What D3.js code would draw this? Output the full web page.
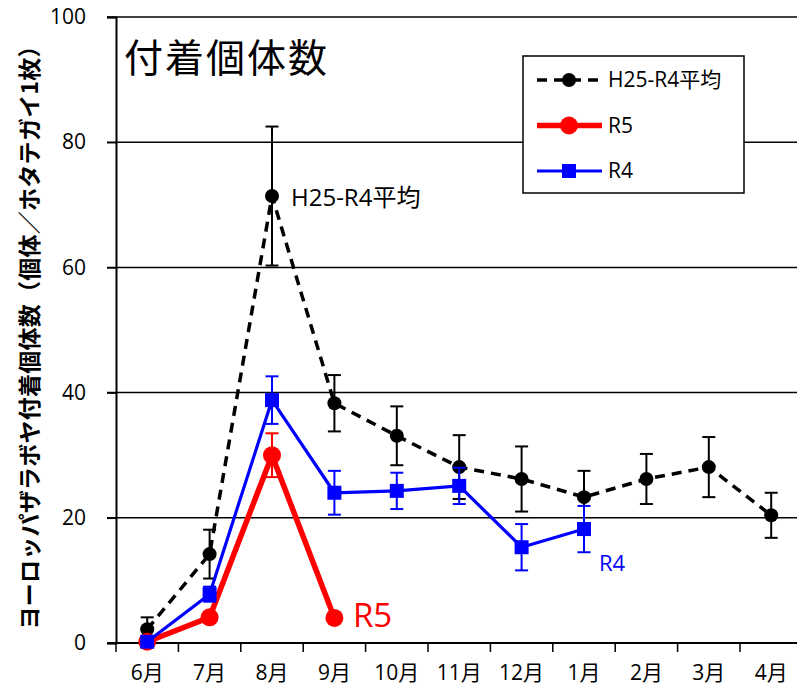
<!DOCTYPE html>
<html>
<head>
<meta charset="utf-8">
<script src="https://cdn.jsdelivr.net/npm/d3@7"></script>
<style>
  body { margin: 0; background: #fff; }
  svg text { font-family: "Open Sans", "Noto Sans CJK JP", sans-serif; }
</style>
</head>
<body>
<div id="chart"></div>
<script>
// months on the x axis
var months = ["6月", "7月", "8月", "9月", "10月", "11月", "12月", "1月", "2月", "3月", "4月"];
var yTicks = [0, 20, 40, 60, 80, 100];

// H25-R4 average, with error
var avgValues = [2.2, 14.2, 71.4, 38.3, 33.1, 28.1, 26.2, 23.3, 26.2, 28.1, 20.4];
var avgErr    = [1.9, 3.9, 11.1, 4.5, 4.7, 5.1, 5.2, 4.2, 4.0, 4.8, 3.6];
// R5
var r5Values = [0.2, 4.1, 30.0, 4.0];
var r5Err    = [0, 0, 3.5, 0];
// R4
var r4Values = [0.2, 7.8, 38.8, 24.0, 24.3, 25.1, 15.3, 18.2];
var r4Err    = [0.3, 1.2, 3.8, 3.5, 2.9, 2.9, 3.7, 3.7];

var width = 797, height = 692;
var plotLeft = 116, plotTop = 17, plotBottom = 643;
var step = 62.4;
var fontStack = "'Open Sans', 'Noto Sans CJK JP', sans-serif";

var svg = d3.select("#chart").append("svg")
    .attr("width", width)
    .attr("height", height);

var x = d3.scaleBand().domain(months).range([plotLeft, plotLeft + step * months.length]);
var y = d3.scaleLinear().domain([0, 100]).range([plotBottom, plotTop]);

function cx(i) { return x(months[i]) + x.bandwidth() / 2; }

// gridlines
svg.append("g").selectAll("line")
    .data(yTicks.filter(function (d) { return d > 0; }))
    .enter().append("line")
    .attr("x1", plotLeft - 9).attr("x2", width)
    .attr("y1", function (d) { return y(d); })
    .attr("y2", function (d) { return y(d); })
    .attr("stroke", "#000").attr("stroke-width", 1.5);

// y axis
var yAxis = svg.append("g")
    .attr("transform", "translate(" + plotLeft + ",0)")
    .call(d3.axisLeft(y).tickValues(yTicks).tickSize(9).tickPadding(21));
yAxis.select(".domain").attr("stroke-width", 2);
yAxis.selectAll(".tick line").attr("stroke-width", 1.5);
yAxis.selectAll("text").attr("font-size", 21).attr("fill", "#000")
    .style("font-family", fontStack);

// x axis (ticks between categories)
var xAxis = svg.append("g")
    .attr("transform", "translate(0," + plotBottom + ")")
    .call(d3.axisBottom(x).tickSize(0).tickPadding(22));
xAxis.select(".domain").attr("d", "M" + (plotLeft - 9) + ",0H" + width).attr("stroke-width", 2);
xAxis.selectAll("text").attr("font-size", 21).attr("fill", "#000")
    .style("font-family", fontStack);
svg.append("g").selectAll("line")
    .data(d3.range(months.length))
    .enter().append("line")
    .attr("x1", function (i) { return x(months[i]); })
    .attr("x2", function (i) { return x(months[i]); })
    .attr("y1", plotBottom).attr("y2", plotBottom + 9)
    .attr("stroke", "#000").attr("stroke-width", 1.5);

// y axis title
svg.append("text")
    .attr("transform", "translate(38,332) rotate(-90)")
    .attr("text-anchor", "middle")
    .attr("font-size", 23)
    .attr("font-weight", "bold")
    .attr("textLength", 595)
    .attr("lengthAdjust", "spacing")
    .style("font-family", "'Noto Sans CJK JP', sans-serif")
    .text("ヨーロッパザラボヤ付着個体数（個体／ホタテガイ1枚）");

// chart title
svg.append("text")
    .attr("x", 124).attr("y", 72)
    .attr("font-size", 39)
    .attr("letter-spacing", 2)
    .style("font-family", "'Noto Sans CJK JP', sans-serif")
    .text("付着個体数");

var line = d3.line()
    .x(function (d, i) { return cx(i); })
    .y(function (d) { return y(d); });

function errorBars(values, errs, color, capW, sw) {
    var g = svg.append("g").attr("stroke", color).attr("stroke-width", sw);
    values.forEach(function (v, i) {
        if (!errs[i]) return;
        var xi = cx(i);
        g.append("line").attr("x1", xi).attr("x2", xi)
            .attr("y1", y(v - errs[i])).attr("y2", y(v + errs[i]));
        [v - errs[i], v + errs[i]].forEach(function (e) {
            g.append("line").attr("x1", xi - capW / 2).attr("x2", xi + capW / 2)
                .attr("y1", y(e)).attr("y2", y(e));
        });
    });
}

// H25-R4 average
errorBars(avgValues, avgErr, "#000", 13, 2);
svg.append("path").datum(avgValues)
    .attr("d", line).attr("fill", "none")
    .attr("stroke", "#000").attr("stroke-width", 3.5)
    .attr("stroke-dasharray", "10,7");
svg.append("g").selectAll("circle").data(avgValues).enter().append("circle")
    .attr("cx", function (d, i) { return cx(i); })
    .attr("cy", function (d) { return y(d); })
    .attr("r", 7).attr("fill", "#000");

// R5
errorBars(r5Values, r5Err, "#ff0000", 13, 2);
svg.append("path").datum(r5Values)
    .attr("d", line).attr("fill", "none")
    .attr("stroke", "#ff0000").attr("stroke-width", 5.5);
svg.append("g").selectAll("circle").data(r5Values).enter().append("circle")
    .attr("cx", function (d, i) { return cx(i); })
    .attr("cy", function (d) { return y(d); })
    .attr("r", 9).attr("fill", "#ff0000");

// R4
errorBars(r4Values, r4Err, "#0000ff", 13, 2);
svg.append("path").datum(r4Values)
    .attr("d", line).attr("fill", "none")
    .attr("stroke", "#0000ff").attr("stroke-width", 3.2);
svg.append("g").selectAll("rect").data(r4Values).enter().append("rect")
    .attr("x", function (d, i) { return cx(i) - 7; })
    .attr("y", function (d) { return y(d) - 7; })
    .attr("width", 14).attr("height", 14).attr("fill", "#0000ff");

// in-plot labels
svg.append("text").attr("x", 291).attr("y", 206).attr("font-size", 24).text("H25-R4平均");
svg.append("text").attr("x", 353).attr("y", 627).attr("font-size", 33).attr("fill", "#ff0000").text("R5");
svg.append("text").attr("x", 599).attr("y", 571).attr("font-size", 22).attr("fill", "#0000ff").text("R4");

// legend
var legend = svg.append("g");
legend.append("rect")
    .attr("x", 523).attr("y", 56).attr("width", 221).attr("height", 137)
    .attr("fill", "#fff").attr("stroke", "#000").attr("stroke-width", 1.5);
var legendItems = [
    { name: "H25-R4平均", color: "#000", sw: 3.5, dash: "10,7", shape: "circle", r: 7 },
    { name: "R5", color: "#ff0000", sw: 5.5, dash: null, shape: "circle", r: 9 },
    { name: "R4", color: "#0000ff", sw: 3.2, dash: null, shape: "square", r: 7 }
];
legendItems.forEach(function (d, i) {
    var ly = 80 + i * 45.5;
    legend.append("line")
        .attr("x1", 537).attr("x2", 602).attr("y1", ly).attr("y2", ly)
        .attr("stroke", d.color).attr("stroke-width", d.sw)
        .attr("stroke-dasharray", d.dash);
    if (d.shape === "circle") {
        legend.append("circle").attr("cx", 569).attr("cy", ly).attr("r", d.r).attr("fill", d.color);
    } else {
        legend.append("rect").attr("x", 569 - d.r).attr("y", ly - d.r)
            .attr("width", d.r * 2).attr("height", d.r * 2).attr("fill", d.color);
    }
    legend.append("text").attr("x", 608).attr("y", ly + 7)
        .attr("font-size", 21).text(d.name);
});
</script>
</body>
</html>
